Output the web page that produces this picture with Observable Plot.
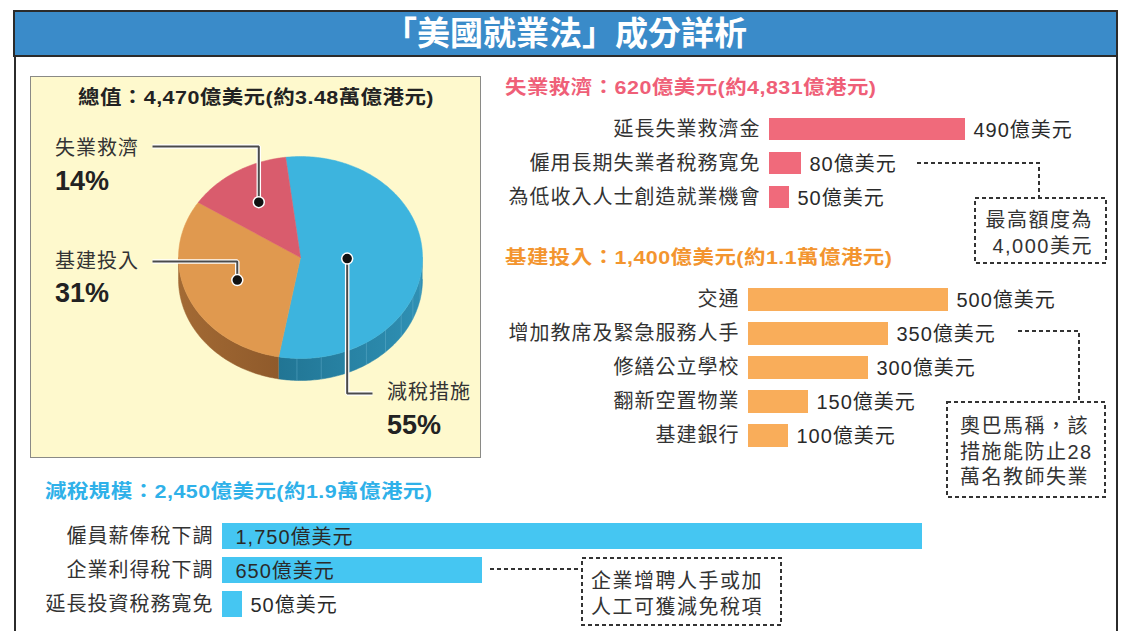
<!DOCTYPE html>
<html><head><meta charset="utf-8">
<script src="https://cdn.jsdelivr.net/npm/d3@7"></script>
<script src="https://cdn.jsdelivr.net/npm/@observablehq/plot@0.6"></script>
<style>
body{margin:0;background:#fff;}
#root{position:relative;width:1122px;height:631px;overflow:hidden;font-family:"Liberation Sans","Noto Sans CJK TC",sans-serif;color:#333;background:#fff;}
.abs{position:absolute;white-space:nowrap;}
.hdr{font-weight:bold;font-size:19px;letter-spacing:0.4px;line-height:24px;transform:scaleX(1.13);transform-origin:0 50%;}
.lbl{font-size:20px;letter-spacing:1px;line-height:24px;color:#333;}
.pct{font-size:27px;font-weight:bold;line-height:32px;color:#222;}
.note{font-size:20px;letter-spacing:1.5px;line-height:25.5px;color:#333;}
svg text{letter-spacing:1px;}
</style></head><body><div id="root"></div>
<script>
// ---------- data ----------
const pieCategories = ["減稅措施", "基建投入", "失業救濟"];
const pieValues = [2450, 1400, 620];
const reliefItems = ["延長失業救濟金", "僱用長期失業者稅務寬免", "為低收入人士創造就業機會"];
const reliefValues = [490, 80, 50];
const infraItems = ["交通", "增加教席及緊急服務人手", "修繕公立學校", "翻新空置物業", "基建銀行"];
const infraValues = [500, 350, 300, 150, 100];
const taxItems = ["僱員薪俸稅下調", "企業利得稅下調", "延長投資稅務寬免"];
const taxValues = [1750, 650, 50];
const titleText = "「美國就業法」成分詳析";
const totalText = "總值：4,470億美元(約3.48萬億港元)";
const reliefHeader = "失業救濟：620億美元(約4,831億港元)";
const infraHeader = "基建投入：1,400億美元(約1.1萬億港元)";
const taxHeader = "減稅規模：2,450億美元(約1.9萬億港元)";
const note1 = ["最高額度為", "4,000美元"];
const note2 = ["奧巴馬稱，該", "措施能防止28", "萬名教師失業"];
const note3 = ["企業增聘人手或加", "人工可獲減免稅項"];
const unit = "億美元";

const root = document.getElementById("root");
function div(cls, css, html) {
  const d = document.createElement("div");
  d.className = "abs " + (cls || "");
  Object.assign(d.style, css);
  if (html != null) d.innerHTML = html;
  root.appendChild(d);
  return d;
}

// ---------- frame & title ----------
div("", {left:"14px", top:"10px", width:"2px", height:"621px", background:"#2b2b2b"});
div("", {left:"1116px", top:"10px", width:"2px", height:"621px", background:"#2b2b2b"});
div("", {left:"13px", top:"10px", width:"1101px", height:"43px", background:"#3a8bc9", border:"2.5px solid #2b2b2b",
  color:"#fff", fontWeight:"bold", fontSize:"33px", lineHeight:"44px", textAlign:"center"}, titleText);

// ---------- pie panel ----------
const P = {left:30, top:76, w:452, h:383, x0:148, x1:392, y0:80, y1:282, depth:0.218, start:-7};
div("", {left:P.left+"px", top:P.top+"px", width:(P.w-3)+"px", height:(P.h-3)+"px", background:"#fef9cd", border:"1.5px solid #8a8a86"});
div("hdr", {left:P.left+"px", top:"86px", width:P.w+"px", textAlign:"center", color:"#222", transformOrigin:"50% 50%"}, totalText);

const toUx = px => (px - (P.x0+P.x1)/2) / ((P.x1-P.x0)/2);
const toUy = py => (py - (P.y0+P.y1)/2) / ((P.y1-P.y0)/2);
const a0 = P.start*Math.PI/180;
const arcs = d3.pie().sort(null).startAngle(a0).endAngle(a0 + 2*Math.PI)(pieValues);
const pt = (a, r=1, dy=0) => ({x: r*Math.sin(a), y: -r*Math.cos(a) + dy});
function arcPts(s, e, dy=0) {
  const n = Math.max(2, Math.ceil((e - s) / (Math.PI/180)));
  return d3.range(n+1).map(i => pt(s + (e - s)*i/n, 1, dy));
}
const topColors = ["#3db4de", "#e0994f", "#d95c6d"];
const sideColors = ["url(#gBlue)", "url(#gOrange)", "#a84657"];
const tops = arcs.map((a, i) => ({i, pts:[{x:0,y:0}, ...arcPts(a.startAngle, a.endAngle), {x:0,y:0}]}));
const sides = arcs.map((a, i) => {
  const lo = Math.max(a.startAngle, Math.PI/2), hi = Math.min(a.endAngle, 3*Math.PI/2);
  if (hi <= lo) return null;
  return {i, pts:[...arcPts(lo, hi), ...arcPts(lo, hi, P.depth).reverse()]};
}).filter(Boolean);
// facet seams on the blue side
const seams = [];
{
  const a = arcs[0];
  const lo = Math.max(a.startAngle, Math.PI/2), hi = Math.min(a.endAngle, 3*Math.PI/2);
  for (let t = lo + 0.2; t < hi - 0.05; t += 0.2) {
    const p = pt(t), q = pt(t, 1, P.depth);
    seams.push({k:t, x:p.x, y:p.y}, {k:t, x:q.x, y:q.y});
  }
}
const dots = arcs.map((a, i) => {
  const al = a.endAngle - a.startAngle, mid = (a.startAngle + a.endAngle)/2;
  const r = 4*Math.sin(al/2)/(3*al);
  return {i, ...pt(mid, r)};
});
const Lp = {x:toUx(122), y:toUy(70)}, Lo = {x:toUx(122), y:toUy(185)}, Lb = {x:toUx(342), y:toUy(317)};
const leaders = [
  ...[Lp, {x:dots[2].x, y:Lp.y}, dots[2]].map(p => ({k:2, x:p.x, y:p.y})),
  ...[Lo, {x:dots[1].x, y:Lo.y}, dots[1]].map(p => ({k:1, x:p.x, y:p.y})),
  ...[dots[0], {x:dots[0].x, y:Lb.y}, Lb].map(p => ({k:0, x:p.x, y:p.y}))
];

const pie = Plot.plot({
  width:P.w, height:P.h, margin:0,
  x:{domain:[-1,1], range:[P.x0,P.x1], axis:null},
  y:{domain:[-1,1], range:[P.y0,P.y1], axis:null},
  style:{background:"transparent", overflow:"visible"},
  marks:[
    ...sides.map(s => Plot.line(s.pts, {x:"x", y:"y", fill:sideColors[s.i], stroke:sideColors[s.i], strokeWidth:0.5})),
    Plot.line(seams, {x:"x", y:"y", z:"k", stroke:"#6fb7d2", strokeOpacity:0.5, strokeWidth:0.8}),
    ...tops.map(s => Plot.line(s.pts, {x:"x", y:"y", fill:topColors[s.i], stroke:topColors[s.i], strokeWidth:0.5})),
    Plot.line(leaders, {x:"x", y:"y", z:"k", stroke:"#fff", strokeWidth:4.5, strokeLinejoin:"miter", strokeLinecap:"butt"}),
    Plot.line(leaders, {x:"x", y:"y", z:"k", stroke:"#4a4a4a", strokeWidth:2, strokeLinejoin:"miter", strokeLinecap:"butt"}),
    Plot.dot(dots, {x:"x", y:"y", r:5.5, fill:"#111", stroke:"#fff", strokeWidth:1.5})
  ]
});
d3.select(pie).insert("defs", ":first-child").html(
  '<linearGradient id="gBlue" x1="0" x2="1" y1="0" y2="0"><stop offset="0" stop-color="#217594"/><stop offset="1" stop-color="#2f90b4"/></linearGradient>' +
  '<linearGradient id="gOrange" x1="0" x2="1" y1="0" y2="0"><stop offset="0" stop-color="#a36a34"/><stop offset="1" stop-color="#8f5a2b"/></linearGradient>');
const pieWrap = div("", {left:P.left+"px", top:P.top+"px", width:P.w+"px", height:P.h+"px"});
pieWrap.appendChild(pie);

const total = d3.sum(pieValues);
const pct = v => Math.round(v/total*100) + "%";
div("lbl", {left:"55px", top:"136px"}, pieCategories[2]);
div("pct", {left:"55px", top:"165px"}, pct(pieValues[2]));
div("lbl", {left:"55px", top:"249px"}, pieCategories[1]);
div("pct", {left:"55px", top:"277px"}, pct(pieValues[1]));
div("lbl", {left:"387px", top:"380px"}, pieCategories[0]);
div("pct", {left:"387px", top:"409px"}, pct(pieValues[0]));

// ---------- bar panels ----------
const PX = 0.4; // px per 億美元
const fmt = d3.format(",");
function barPlot({items, values, color, left, top, width, height, marginLeft, barFrac, insideMin}) {
  const data = items.map((c, i) => ({cat:c, value:values[i]}));
  const pin = 1 - barFrac;
  const inside = d => d.value*PX >= insideMin;
  const plot = Plot.plot({
    width, height, marginLeft, marginRight:0, marginTop:0, marginBottom:0,
    x:{domain:[0, (width - marginLeft)/PX], range:[marginLeft, width], axis:null},
    y:{domain:items, paddingInner:pin, paddingOuter:pin/2, align:0.5},
    style:{background:"transparent", fontSize:"20px", fontFamily:'"Liberation Sans","Noto Sans CJK TC",sans-serif', color:"#333", overflow:"visible"},
    marks:[
      Plot.barX(data, {x:"value", y:"cat", fill:color}),
      Plot.axisY({tickSize:0, tickPadding:9, label:null}),
      Plot.text(data.filter(d => !inside(d)), {x:"value", y:"cat", text:d => fmt(d.value) + unit, textAnchor:"start", dx:8, fill:"#2a2a2a", dy:1}),
      Plot.text(data.filter(inside), {x:() => 0, y:"cat", text:d => fmt(d.value) + unit, textAnchor:"start", dx:13, fill:"#2a2a2a", dy:1})
    ]
  });
  const w = div("", {left:left+"px", top:top+"px", width:width+"px", height:height+"px"});
  w.appendChild(plot);
}

div("hdr", {left:"505px", top:"76px", color:"#ef5f78"}, reliefHeader);
barPlot({items:reliefItems, values:reliefValues, color:"#f06a7b", left:490, top:112, width:632, height:102, marginLeft:279, barFrac:22/34, insideMin:Infinity});

div("hdr", {left:"505px", top:"246px", color:"#f3952f"}, infraHeader);
barPlot({items:infraItems, values:infraValues, color:"#f9ad5a", left:490, top:282, width:632, height:170, marginLeft:258, barFrac:23/34, insideMin:Infinity});

div("hdr", {left:"45px", top:"480px", color:"#2fb1e9"}, taxHeader);
barPlot({items:taxItems, values:taxValues, color:"#45c6f2", left:0, top:519, width:1100, height:102, marginLeft:222, barFrac:26/34, insideMin:150});

// ---------- annotation boxes ----------
const ov = d3.select(root).append("svg").attr("width",1122).attr("height",631)
  .style("position","absolute").style("left","0").style("top","0");
const dash = "4 3";
function box(x, y, w, h) {
  ov.append("rect").attr("x",x).attr("y",y).attr("width",w).attr("height",h)
    .attr("fill","none").attr("stroke","#333").attr("stroke-width",2).attr("stroke-dasharray",dash);
}
function poly(pts) {
  ov.append("polyline").attr("points", pts.map(p => p.join(",")).join(" "))
    .attr("fill","none").attr("stroke","#333").attr("stroke-width",2).attr("stroke-dasharray",dash);
}
box(975, 198, 131, 65);
poly([[917,163],[1039,163],[1039,198]]);
div("note", {left:"975px", top:"208px", width:"118px", textAlign:"right"}, note1.join("<br>"));

box(947, 402, 158, 95);
poly([[1018,331],[1079,331],[1079,402]]);
div("note", {left:"960px", top:"414px"}, note2.join("<br>"));

box(582, 558, 199, 67);
poly([[490,569],[582,569]]);
div("note", {left:"591px", top:"569px"}, note3.join("<br>"));
</script></body></html>
